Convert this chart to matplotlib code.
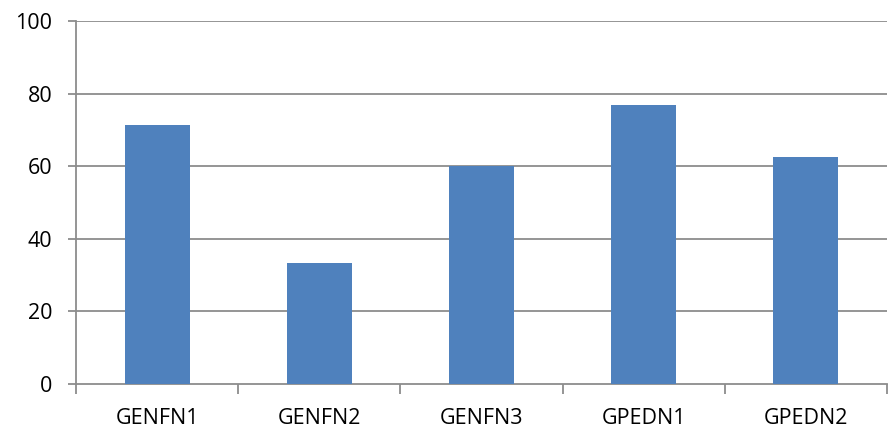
import numpy as np
import matplotlib.pyplot as plt

categories = ["GENFN1", "GENFN2", "GENFN3", "GPEDN1", "GPEDN2"]
values = [71.4, 33.3, 60.0, 76.9, 62.4]

plt.rcParams['font.family'] = ['Open Sans', 'DejaVu Sans']

fig = plt.figure(figsize=(8.88, 4.30), dpi=100)
ax = fig.add_axes([76/888, 1 - 384/430, 811/888, 363/430])

x = np.arange(len(categories))
ax.bar(x, values, width=0.4, color="#4F81BD", zorder=3)

ax.set_xlim(-0.5, len(categories) - 0.5)
ax.set_ylim(0, 100)
ax.set_yticks(range(0, 101, 20))
for y in range(20, 101, 20):
    ax.axhline(y, color="#8C8C8C", lw=1.3, zorder=1)

ax.set_xticks(np.arange(-0.5, len(categories)), minor=False)
ax.set_xticklabels([])
ax.set_xticks(x, minor=True)
ax.set_xticklabels(categories, minor=True)
ax.tick_params(axis='x', which='major', length=7, color="#8C8C8C", width=1.3)
ax.tick_params(axis='x', which='minor', length=0, pad=17, labelsize=15.5)
ax.tick_params(axis='y', length=6, color="#8C8C8C", width=1.3, labelsize=15.5, pad=11)

for s in ["top", "right"]:
    ax.spines[s].set_visible(False)
for s in ["left", "bottom"]:
    ax.spines[s].set_color("#8C8C8C")
    ax.spines[s].set_linewidth(1.3)

fig.savefig("out.png", dpi=100)
